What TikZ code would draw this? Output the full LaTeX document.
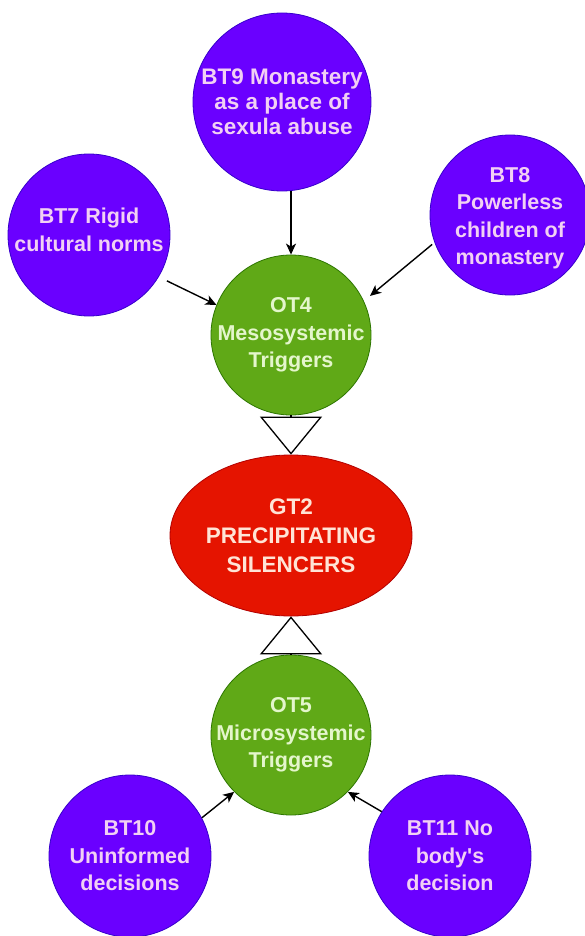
\documentclass[tikz,border=0pt]{standalone}
\usepackage{fontspec}
\setmainfont{Liberation Sans}
\usetikzlibrary{arrows.meta,shapes.geometric}
\definecolor{vfill}{HTML}{6A00FF}
\definecolor{vline}{HTML}{3700CC}
\definecolor{gfill}{HTML}{60A917}
\definecolor{gline}{HTML}{2D7600}
\definecolor{rfill}{HTML}{E51400}
\definecolor{rline}{HTML}{B20000}
\definecolor{vtext}{HTML}{F2D0F4}
\definecolor{gtext}{HTML}{E4F6CC}
\definecolor{rtext}{HTML}{FFE4D6}
\begin{document}
\begin{tikzpicture}[x=1pt,y=-1pt,
  vcirc/.style={circle, fill=vfill, draw=vline, line width=0.8pt, minimum size=#1, inner sep=0pt},
  gcirc/.style={circle, fill=gfill, draw=gline, line width=0.8pt, minimum size=#1, inner sep=0pt},
  redell/.style={ellipse, fill=rfill, draw=rline, line width=0.8pt, minimum width=242pt, minimum height=161pt, inner sep=0pt},
  basetxt/.style={align=center, inner sep=0pt, font=\fontsize{21.5}{27.5}\selectfont\bfseries},
  vtxt/.style={basetxt, text=vtext},
  gtxt/.style={basetxt, text=gtext},
  rtxt/.style={basetxt, text=rtext, font=\fontsize{22.5}{29}\selectfont\bfseries},
  arr/.style={-{Stealth[length=11pt,width=10pt,inset=3pt]}, line width=1.4pt, black},
  tri/.style={-{Triangle[open,length=38pt,width=62pt]}, line width=1.3pt, black}]
\useasboundingbox[fill=white] (0,0) rectangle (584,936);

% shapes
\node[vcirc=178pt] (bt9) at (282,102) {};
\node[vcirc=162pt] (bt7) at (89,235) {};
\node[vcirc=160pt] (bt8) at (510,215) {};
\node[gcirc=160pt] (ot4) at (291,335) {};
\node[redell] (gt2) at (291,535.5) {};
\node[gcirc=160pt] (ot5) at (291,735) {};
\node[vcirc=162pt] (bt10) at (130,856) {};
\node[vcirc=162pt] (bt11) at (450,856) {};

% texts
\node[vtxt, font=\fontsize{22.5}{25}\selectfont\bfseries] (bt9t) at (bt9) {BT9 Monastery\\as a place of\\sexula abuse};
\node[vtxt] (bt7t) at ([yshift=5pt]bt7.center) {BT7 Rigid\\cultural norms};
\node[vtxt] (bt8t) at ([yshift=-3pt]bt8.center) {BT8\\Powerless\\children of\\monastery};
\node[gtxt] (ot4t) at (ot4) {OT4\\Mesosystemic\\Triggers};
\node[rtxt] (gt2t) at (gt2) {GT2\\PRECIPITATING\\SILENCERS};
\node[gtxt] (ot5t) at (ot5) {OT5\\Microsystemic\\Triggers};
\node[vtxt] (bt10t) at (bt10) {BT10\\Uninformed\\decisions};
\node[vtxt] (bt11t) at (bt11) {BT11 No\\body\textquotesingle s\\decision};

% connectors
\draw[arr] (bt9.south -| ot4.north) -- (ot4.north);
\draw[arr, shorten <=9pt] (bt7.-31) -- (ot4.158);
\draw[arr, shorten <=3pt, shorten >=8pt] (bt8.200) -- (ot4.25);
\draw[arr] (bt10.28) -- (ot5.225);
\draw[arr] (bt11.147) -- (ot5.-45);
\draw[tri] (ot4.south) -- (gt2.north);
\draw[tri] (ot5.north) -- (gt2.south);
\end{tikzpicture}
\end{document}
